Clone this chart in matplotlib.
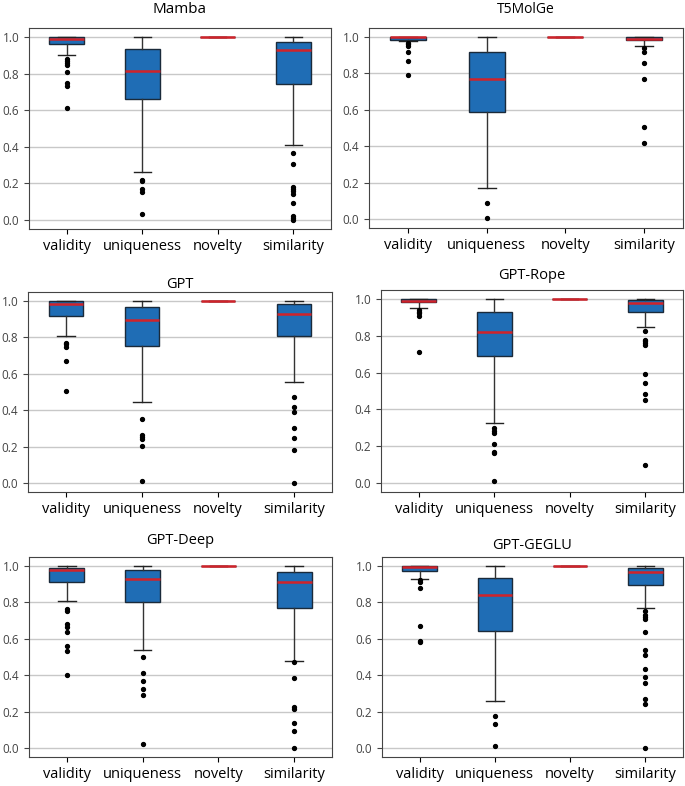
import numpy as np
import matplotlib
matplotlib.use("Agg")
import matplotlib.pyplot as plt

plt.rcParams['font.family'] = ['Open Sans', 'DejaVu Sans']

# nazwy kategorii i modeli
kategorie = ["validity", "uniqueness", "novelty", "similarity"]
modele = ["Mamba", "T5MolGe", "GPT", "GPT-Rope", "GPT-Deep", "GPT-GEGLU"]

# statystyki pudełek: [q1, mediana, q3, dolny wąs, górny wąs] dla każdej kategorii
mamba_stat = [[0.96, 0.99, 1.0, 0.90, 1.0],
              [0.662, 0.813, 0.936, 0.262, 1.0],
              [1.0, 1.0, 1.0, 1.0, 1.0],
              [0.745, 0.930, 0.972, 0.411, 1.0]]
mamba_out = [[0.88, 0.87, 0.86, 0.85, 0.81, 0.75, 0.73, 0.61],
             [0.22, 0.21, 0.17, 0.15, 0.03],
             [],
             [0.365, 0.303, 0.18, 0.169, 0.16, 0.143, 0.095, 0.022, 0.009, 0.0]]

t5_stat = [[0.985, 0.998, 1.0, 0.98, 1.0],
           [0.589, 0.771, 0.918, 0.169, 1.0],
           [1.0, 1.0, 1.0, 1.0, 1.0],
           [0.982, 0.991, 1.0, 0.949, 1.0]]
t5_out = [[0.97, 0.96, 0.95, 0.92, 0.87, 0.79],
          [0.089, 0.007],
          [],
          [0.94, 0.92, 0.86, 0.769, 0.505, 0.416]]

gpt_stat = [[0.92, 0.982, 1.0, 0.81, 1.0],
            [0.751, 0.896, 0.965, 0.446, 1.0],
            [1.0, 1.0, 1.0, 1.0, 1.0],
            [0.806, 0.93, 0.982, 0.556, 1.0]]
gpt_out = [[0.771, 0.762, 0.746, 0.669, 0.508],
           [0.351, 0.263, 0.252, 0.241, 0.201, 0.009],
           [],
           [0.473, 0.419, 0.389, 0.302, 0.247, 0.183, 0.0]]

rope_stat = [[0.982, 0.991, 1.0, 0.952, 1.0],
             [0.688, 0.823, 0.93, 0.326, 1.0],
             [1.0, 1.0, 1.0, 1.0, 1.0],
             [0.928, 0.98, 0.993, 0.851, 1.0]]
rope_out = [[0.941, 0.932, 0.923, 0.910, 0.71],
            [0.296, 0.283, 0.269, 0.21, 0.17, 0.161, 0.009],
            [],
            [0.826, 0.78, 0.771, 0.762, 0.751, 0.59, 0.541, 0.486, 0.452, 0.099]]

deep_stat = [[0.91, 0.98, 0.989, 0.81, 1.0],
             [0.801, 0.929, 0.978, 0.536, 1.0],
             [1.0, 1.0, 1.0, 1.0, 1.0],
             [0.77, 0.91, 0.969, 0.477, 1.0]]
deep_out = [[0.762, 0.751, 0.682, 0.667, 0.64, 0.561, 0.532, 0.40],
            [0.501, 0.411, 0.369, 0.322, 0.289, 0.022],
            [],
            [0.47, 0.386, 0.223, 0.214, 0.135, 0.093, 0.0]]

geglu_stat = [[0.971, 0.993, 1.0, 0.931, 1.0],
              [0.644, 0.841, 0.934, 0.256, 1.0],
              [1.0, 1.0, 1.0, 1.0, 1.0],
              [0.896, 0.969, 0.987, 0.77, 1.0]]
geglu_out = [[0.923, 0.914, 0.879, 0.669, 0.59, 0.58],
             [0.174, 0.132, 0.009],
             [],
             [0.751, 0.731, 0.722, 0.709, 0.636, 0.536, 0.512, 0.433, 0.388, 0.358,
              0.271, 0.241, 0.0]]

statystyki = [mamba_stat, t5_stat, gpt_stat, rope_stat, deep_stat, geglu_stat]
odstajace = [mamba_out, t5_out, gpt_out, rope_out, deep_out, geglu_out]

# położenia osi w pikselach: lewo, prawo, góra, dół
pozycje = [(29, 331, 28, 229), (369, 683, 28, 228),
           (28, 332, 292, 492), (381, 683, 290, 492),
           (29, 332, 557, 757), (382, 683, 557, 757)]
# odstęp tytułu od osi (w punktach) i rozmiar tytułu
odstepTytulu = [11, 10.5, 3, 8, 9, 6]
rozmiarTytulu = [11, 10, 10.5, 10.5, 10.5, 10.5]

W, H = 685, 786
fig = plt.figure(figsize=(W / 100, H / 100), dpi=100)

for i, (nazwa, stat, odst, (l, r, t, b)) in enumerate(zip(modele, statystyki, odstajace, pozycje)):
    ax = fig.add_axes([l / W, 1 - b / H, (r - l) / W, (b - t) / H])
    dane = []
    for kat, s, o in zip(kategorie, stat, odst):
        dane.append(dict(label=kat, q1=s[0], med=s[1], q3=s[2],
                         whislo=s[3], whishi=s[4], fliers=o))
    ax.bxp(dane, widths=0.46, patch_artist=True,
           boxprops=dict(facecolor="#1f6db5", edgecolor="#1a2a3a", linewidth=1.0),
           medianprops=dict(color="#d0232a", linewidth=1.8),
           whiskerprops=dict(color="#333333", linewidth=1.0),
           capprops=dict(color="#222222", linewidth=1.0),
           flierprops=dict(marker="o", markerfacecolor="black", markeredgecolor="black",
                           markersize=2.8))
    ax.set_ylim(-0.05, 1.05)
    ax.set_yticks([0.0, 0.2, 0.4, 0.6, 0.8, 1.0])
    ax.yaxis.grid(True, color="#c8c8c8", linewidth=1.0)
    ax.set_axisbelow(True)
    ax.tick_params(axis="y", labelsize=8.5, colors="#444444")
    ax.tick_params(axis="x", labelsize=10.5, pad=4)
    for sp in ax.spines.values():
        sp.set_color("#444444")
    ax.set_title(nazwa, fontsize=rozmiarTytulu[i], pad=odstepTytulu[i])

fig.savefig("out.png", dpi=100)
